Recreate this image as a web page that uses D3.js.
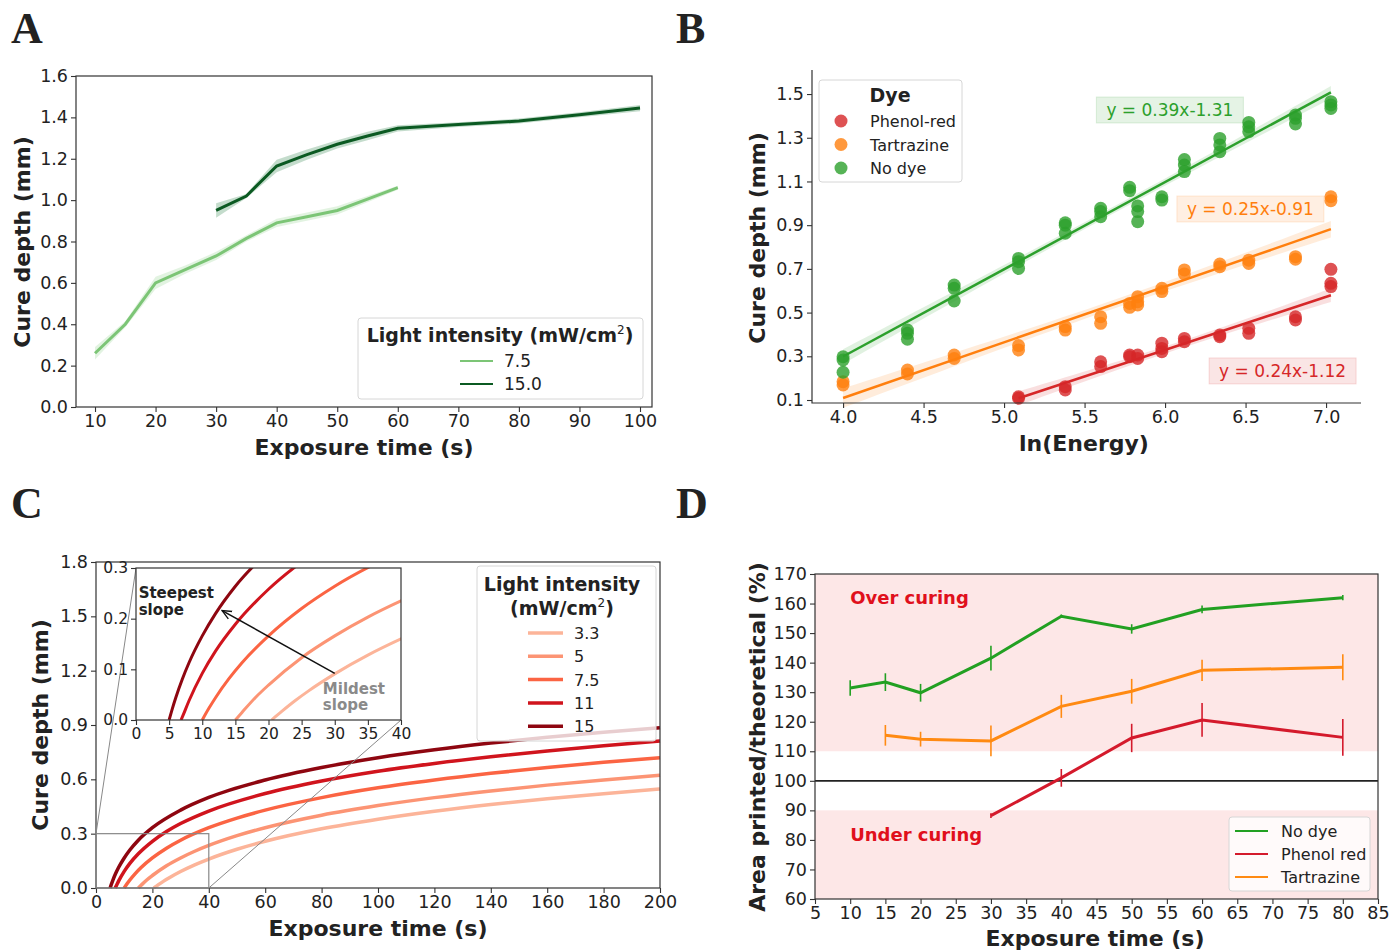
<!DOCTYPE html>
<html>
<head>
<meta charset="utf-8">
<script src="https://cdn.jsdelivr.net/npm/d3@7"></script>
<style>
body { margin: 0; background: #fff; }
svg text { font-family: "DejaVu Sans", sans-serif; fill: #222; }
</style>
</head>
<body>
<svg id="fig" width="1392" height="951"></svg>
<script>
// ---------- panel A : cure depth vs exposure time, two light intensities ----------
var aTime75 = [10, 15, 20, 25, 30, 35, 40, 45, 50, 55, 60];
var aDepth75 = [0.26, 0.40, 0.60, 0.665, 0.73, 0.815, 0.89, 0.92, 0.95, 1.005, 1.06];
var aErr75 = [0.03, 0.015, 0.03, 0.02, 0.02, 0.015, 0.02, 0.02, 0.02, 0.015, 0.01];
var aTime15 = [30, 35, 40, 45, 50, 55, 60, 70, 80, 90, 100];
var aDepth15 = [0.95, 1.02, 1.165, 1.22, 1.27, 1.31, 1.347, 1.365, 1.382, 1.413, 1.445];
var aErr15 = [0.035, 0.01, 0.03, 0.025, 0.02, 0.02, 0.015, 0.012, 0.012, 0.012, 0.015];

// ---------- panel B : cure depth vs ln(Energy) per dye ----------
var bLnE = [4.00, 4.40, 4.69, 5.09, 5.38, 5.60, 5.78, 5.83, 5.98, 6.12, 6.34, 6.52, 6.81, 7.03];
var bPhenol = [[], [], [], [0.115, 0.108], [0.161, 0.146], [0.275, 0.253], [0.306, 0.298],
  [0.306, 0.29], [0.36, 0.336, 0.321], [0.382, 0.367], [0.397, 0.39], [0.428, 0.405],
  [0.481, 0.466], [0.698, 0.634, 0.619]];
var bTartrazine = [[0.184, 0.169], [0.237, 0.219], [0.306, 0.29], [0.349, 0.329], [0.436, 0.42],
  [0.481, 0.451], [0.542, 0.524], [0.573, 0.55, 0.535], [0.611, 0.596], [0.695, 0.677],
  [0.722, 0.71], [0.74, 0.725], [0.756, 0.744], [1.03, 1.012]];
var bNoDye = [[0.298, 0.283, 0.227], [0.42, 0.405, 0.378], [0.626, 0.611, 0.553], [0.748, 0.733, 0.702],
  [0.911, 0.90, 0.863], [0.977, 0.962, 0.939], [1.073, 1.058], [0.988, 0.962, 0.916],
  [1.03, 1.015], [1.20, 1.175, 1.145], [1.297, 1.267, 1.236], [1.37, 1.35, 1.328],
  [1.404, 1.389, 1.363], [1.465, 1.45, 1.434]];
var bDyes = ["Phenol-red", "Tartrazine", "No dye"];
var bSlope = [0.243, 0.255, 0.399];
var bIntercept = [-1.129, -0.911, -1.297];
var bFitLabels = ["y = 0.24x-1.12", "y = 0.25x-0.91", "y = 0.39x-1.31"];
var bLabelPos = [[6.73, 0.233], [6.53, 0.974], [6.03, 1.427]];

// ---------- panel C : modelled cure depth for 5 light intensities ----------
var cIntensity = ["3.3", "5", "7.5", "11", "15"];
var cTime = [
  [20.5, 21, 22, 24, 26, 30, 35, 40, 50, 60, 80, 100, 120, 140, 160, 180, 200],
  [15, 16, 18, 20, 25, 30, 35, 40, 50, 60, 80, 100, 120, 140, 160, 180, 200],
  [10, 11, 12, 14, 16, 20, 25, 30, 40, 50, 60, 80, 100, 120, 140, 160, 180, 200],
  [6.8, 7, 8, 10, 12, 15, 20, 25, 30, 40, 60, 80, 100, 120, 140, 160, 180, 200],
  [5, 5.5, 6, 7, 8, 10, 12, 15, 20, 30, 40, 60, 80, 100, 120, 140, 160, 180, 200]
];
var cDepth = [
  [0, 0.006, 0.017, 0.038, 0.057, 0.091, 0.128, 0.16, 0.214, 0.258, 0.327, 0.38, 0.424, 0.461, 0.493, 0.521, 0.547],
  [0, 0.015, 0.044, 0.069, 0.123, 0.166, 0.203, 0.235, 0.289, 0.333, 0.402, 0.455, 0.499, 0.536, 0.568, 0.596, 0.622],
  [0, 0.023, 0.044, 0.081, 0.113, 0.166, 0.22, 0.264, 0.333, 0.386, 0.43, 0.499, 0.553, 0.596, 0.633, 0.665, 0.694, 0.719],
  [0, 0.006, 0.038, 0.092, 0.136, 0.189, 0.258, 0.312, 0.356, 0.425, 0.522, 0.591, 0.645, 0.688, 0.725, 0.757, 0.786, 0.811],
  [0, 0.023, 0.044, 0.081, 0.113, 0.166, 0.21, 0.264, 0.333, 0.43, 0.5, 0.596, 0.665, 0.719, 0.763, 0.80, 0.832, 0.86, 0.885]
];
var cColors = ["#fcb499", "#fc9474", "#fb6443", "#d0141d", "#8e0610"];

// ---------- panel D : printed / theoretical area ----------
var dSeries = ["No dye", "Phenol red", "Tartrazine"];
var dTime = [
  [10, 15, 20, 30, 40, 50, 60, 80],
  [30, 40, 50, 60, 80],
  [15, 20, 30, 40, 50, 60, 80]
];
var dArea = [
  [131.4, 133.4, 129.8, 141.5, 155.7, 151.4, 158.0, 162.0],
  [88.2, 101.0, 114.5, 120.6, 114.7],
  [115.4, 114.1, 113.5, 125.2, 130.3, 137.4, 138.4]
];
var dErr = [
  [2.6, 3.0, 3.0, 4.2, 0.6, 1.6, 1.3, 0.9],
  [0.8, 3.0, 4.8, 5.7, 6.2],
  [3.5, 2.5, 5.2, 3.9, 4.2, 3.6, 4.4]
];
var dColors = ["#22a022", "#d41a2c", "#ff8a12"];

var svg = d3.select("#fig");
var tickFont = 17.5;

// draws bottom + left axes, optional full frame
function drawAxes(g, x, y, xticks, yticks, xfmt, yfmt, box, fs) {
  fs = fs || tickFont;
  var xr = x.range(), yr = y.range();
  var ax = g.append("g").attr("transform", "translate(0," + yr[0] + ")")
    .call(d3.axisBottom(x).tickValues(xticks).tickFormat(xfmt).tickSize(5).tickPadding(3));
  var ay = g.append("g").attr("transform", "translate(" + xr[0] + ",0)")
    .call(d3.axisLeft(y).tickValues(yticks).tickFormat(yfmt).tickSize(5).tickPadding(3));
  [ax, ay].forEach(function (a) {
    a.select(".domain").remove();
    a.selectAll("line").attr("stroke", "#333").attr("stroke-width", 1.1);
    a.selectAll("text").attr("font-size", fs).attr("fill", "#222")
      .attr("font-family", "DejaVu Sans, sans-serif");
  });
  if (box) {
    g.append("rect").attr("x", xr[0]).attr("y", yr[1]).attr("width", xr[1] - xr[0])
      .attr("height", yr[0] - yr[1]).attr("fill", "none").attr("stroke", "#333").attr("stroke-width", 1.2);
  } else {
    g.append("path").attr("d", "M" + xr[0] + "," + yr[1] + "V" + yr[0] + "H" + xr[1])
      .attr("fill", "none").attr("stroke", "#333").attr("stroke-width", 1.2);
  }
}

function axisTitle(text, x, y, rotate, size) {
  svg.append("text").attr("x", x).attr("y", y)
    .attr("transform", rotate ? "rotate(-90," + x + "," + y + ")" : null)
    .attr("text-anchor", "middle").attr("dominant-baseline", "central")
    .attr("font-size", size || 22).attr("font-weight", "bold").text(text);
}

function panelLetter(t, x, y) {
  svg.append("text").attr("x", x).attr("y", y).text(t)
    .attr("font-family", "Liberation Serif, Times New Roman, serif")
    .attr("font-weight", "bold").attr("font-size", 44).style("font-family", "Liberation Serif, serif");
}

var fmt1 = d3.format(".1f");
var fmt0 = d3.format("d");

// ================= PANEL A =================
(function () {
  var g = svg.append("g");
  var x = d3.scaleLinear().domain([6.86, 101.98]).range([76, 652]);
  var y = d3.scaleLinear().domain([0, 1.6]).range([407, 76]);

  var series = [
    { t: aTime75, d: aDepth75, e: aErr75, c: "#7cc576", band: "#9ed69a" },
    { t: aTime15, d: aDepth15, e: aErr15, c: "#0b5a22", band: "#3d8a55" }
  ];
  series.forEach(function (s) {
    var pts = s.t.map(function (t, i) { return [t, s.d[i], s.e[i]]; });
    g.append("path").datum(pts)
      .attr("d", d3.area().x(function (p) { return x(p[0]); })
        .y0(function (p) { return y(p[1] - p[2]); }).y1(function (p) { return y(p[1] + p[2]); }))
      .attr("fill", s.band).attr("opacity", 0.3);
    g.append("path").datum(pts)
      .attr("d", d3.line().x(function (p) { return x(p[0]); }).y(function (p) { return y(p[1]); }))
      .attr("fill", "none").attr("stroke", s.c).attr("stroke-width", 3);
  });

  drawAxes(g, x, y, d3.range(10, 101, 10), d3.range(0, 1.61, 0.2), fmt0, fmt1, true);

  // legend
  var lg = g.append("g");
  lg.append("rect").attr("x", 358).attr("y", 318).attr("width", 285).attr("height", 81)
    .attr("rx", 3).attr("fill", "#fff").attr("fill-opacity", 0.85).attr("stroke", "#d6d6d6");
  var tt = lg.append("text").attr("x", 500).attr("y", 342).attr("text-anchor", "middle")
    .attr("font-size", 19).attr("font-weight", "bold");
  tt.append("tspan").text("Light intensity (mW/cm");
  tt.append("tspan").text("2").attr("font-size", 12).attr("font-weight", "normal").attr("dy", -8);
  tt.append("tspan").text(")").attr("dy", 8);
  ["7.5", "15.0"].forEach(function (lab, i) {
    var yy = 361 + i * 23;
    lg.append("line").attr("x1", 460).attr("x2", 493).attr("y1", yy).attr("y2", yy)
      .attr("stroke", series[i].c).attr("stroke-width", 2);
    lg.append("text").attr("x", 504).attr("y", yy + 6).attr("font-size", 17).text(lab);
  });

  axisTitle("Cure depth (mm)", 22, 242, true);
  axisTitle("Exposure time (s)", 364, 447, false);
  panelLetter("A", 11, 43);
})();

// ================= PANEL B =================
(function () {
  var g = svg.append("g");
  var x = d3.scaleLinear().domain([3.807, 7.217]).range([812, 1361]);
  var y = d3.scaleLinear().domain([0.0863, 1.61]).range([403, 70]);
  var colors = ["#d62728", "#ff7f0e", "#2ca02c"];
  var groups = [bPhenol, bTartrazine, bNoDye];

  // regression lines with confidence band
  groups.forEach(function (grp, k) {
    var xs = [], ys = [];
    grp.forEach(function (vals, i) { vals.forEach(function (v) { xs.push(bLnE[i]); ys.push(v); }); });
    var n = xs.length, xm = d3.mean(xs);
    var sxx = d3.sum(xs, function (v) { return (v - xm) * (v - xm); });
    var rss = d3.sum(xs, function (v, i) {
      var r = ys[i] - (bSlope[k] * v + bIntercept[k]); return r * r;
    });
    var s = Math.sqrt(rss / (n - 2));
    var x0 = d3.min(xs), x1 = d3.max(xs);
    var grid = d3.range(0, 41).map(function (i) { return x0 + (x1 - x0) * i / 40; });
    var band = grid.map(function (v) {
      var h = 1.96 * s * Math.sqrt(1 / n + (v - xm) * (v - xm) / sxx);
      var m = bSlope[k] * v + bIntercept[k];
      return [v, m - h, m + h];
    });
    g.append("path").datum(band)
      .attr("d", d3.area().x(function (p) { return x(p[0]); })
        .y0(function (p) { return y(p[1]); }).y1(function (p) { return y(p[2]); }))
      .attr("fill", colors[k]).attr("opacity", 0.15);
    g.append("line").attr("x1", x(x0)).attr("x2", x(x1))
      .attr("y1", y(bSlope[k] * x0 + bIntercept[k])).attr("y2", y(bSlope[k] * x1 + bIntercept[k]))
      .attr("stroke", colors[k]).attr("stroke-width", 2.5);
  });

  groups.forEach(function (grp, k) {
    grp.forEach(function (vals, i) {
      vals.forEach(function (v) {
        g.append("circle").attr("cx", x(bLnE[i])).attr("cy", y(v)).attr("r", 6.5)
          .attr("fill", colors[k]).attr("fill-opacity", 0.8);
      });
    });
  });

  // equation labels
  bFitLabels.forEach(function (lab, k) {
    var cx = x(bLabelPos[k][0]), cy = y(bLabelPos[k][1]);
    var w = 147, h = 26;
    g.append("rect").attr("x", cx - w / 2).attr("y", cy - h / 2).attr("width", w).attr("height", h)
      .attr("fill", colors[k]).attr("fill-opacity", 0.12).attr("stroke", colors[k]).attr("stroke-opacity", 0.15);
    g.append("text").attr("x", cx).attr("y", cy + 6).attr("text-anchor", "middle")
      .attr("font-size", 17).attr("fill", colors[k]).style("fill", colors[k]).text(lab);
  });

  drawAxes(g, x, y, d3.range(4, 7.01, 0.5), d3.range(0.1, 1.51, 0.2), fmt1, fmt1, false);

  // legend
  var lg = g.append("g");
  lg.append("rect").attr("x", 819).attr("y", 80).attr("width", 143).attr("height", 102)
    .attr("rx", 3).attr("fill", "#fff").attr("fill-opacity", 0.85).attr("stroke", "#d6d6d6");
  lg.append("text").attr("x", 890).attr("y", 102).attr("text-anchor", "middle")
    .attr("font-size", 19).attr("font-weight", "bold").text("Dye");
  bDyes.forEach(function (lab, i) {
    var yy = 121 + i * 23.5;
    lg.append("circle").attr("cx", 841).attr("cy", yy).attr("r", 6.5)
      .attr("fill", colors[i]).attr("fill-opacity", 0.8);
    lg.append("text").attr("x", 870).attr("y", yy + 6).attr("font-size", 16).text(lab);
  });

  axisTitle("Cure depth (mm)", 757, 238, true);
  axisTitle("ln(Energy)", 1084, 443, false);
  panelLetter("B", 676, 43);
})();

// ================= PANEL C =================
(function () {
  var g = svg.append("g");
  var x = d3.scaleLinear().domain([0, 200]).range([96, 660]);
  var y = d3.scaleLinear().domain([0, 1.8]).range([888, 562]);
  var line = d3.line().curve(d3.curveMonotoneX);

  cTime.forEach(function (ts, k) {
    g.append("path").datum(ts.map(function (t, i) { return [x(t), y(cDepth[k][i])]; }))
      .attr("d", line).attr("fill", "none").attr("stroke", cColors[k]).attr("stroke-width", 3.5);
  });

  drawAxes(g, x, y, d3.range(0, 201, 20), d3.range(0, 1.81, 0.3), fmt0, fmt1, true);

  // zoomed region marker + connectors
  var ix = d3.scaleLinear().domain([0, 40]).range([136, 401]);
  var iy = d3.scaleLinear().domain([0, 0.3]).range([720, 568]);
  g.append("rect").attr("x", x(0)).attr("y", y(0.3)).attr("width", x(40) - x(0))
    .attr("height", y(0) - y(0.3)).attr("fill", "none").attr("stroke", "#888").attr("stroke-width", 1.2);
  g.append("line").attr("x1", x(0)).attr("y1", y(0.3)).attr("x2", ix(0)).attr("y2", iy(0.3))
    .attr("stroke", "#888").attr("stroke-width", 1);
  g.append("line").attr("x1", x(40)).attr("y1", y(0)).attr("x2", ix(40)).attr("y2", iy(0))
    .attr("stroke", "#888").attr("stroke-width", 1);

  // legend
  var lg = g.append("g");
  lg.append("rect").attr("x", 477).attr("y", 566).attr("width", 179).attr("height", 175)
    .attr("rx", 3).attr("fill", "#fff").attr("fill-opacity", 0.8).attr("stroke", "#d6d6d6");
  lg.append("text").attr("x", 562).attr("y", 591).attr("text-anchor", "middle")
    .attr("font-size", 19).attr("font-weight", "bold").text("Light intensity");
  var t2 = lg.append("text").attr("x", 562).attr("y", 615).attr("text-anchor", "middle")
    .attr("font-size", 19).attr("font-weight", "bold");
  t2.append("tspan").text("(mW/cm");
  t2.append("tspan").text("2").attr("font-size", 12).attr("font-weight", "normal").attr("dy", -8);
  t2.append("tspan").text(")").attr("dy", 8);
  cIntensity.forEach(function (lab, i) {
    var yy = 633 + i * 23.3;
    lg.append("line").attr("x1", 528).attr("x2", 563).attr("y1", yy).attr("y2", yy)
      .attr("stroke", cColors[i]).attr("stroke-width", 3.5);
    lg.append("text").attr("x", 574).attr("y", yy + 6).attr("font-size", 16).text(lab);
  });

  // inset
  var ig = g.append("g");
  ig.append("rect").attr("x", 136).attr("y", 568).attr("width", 265).attr("height", 152).attr("fill", "#fff");
  svg.append("clipPath").attr("id", "insetClip").append("rect")
    .attr("x", 136).attr("y", 568).attr("width", 265).attr("height", 152);
  var il = ig.append("g").attr("clip-path", "url(#insetClip)");
  cTime.forEach(function (ts, k) {
    il.append("path").datum(ts.map(function (t, i) { return [ix(t), iy(cDepth[k][i])]; }))
      .attr("d", line).attr("fill", "none").attr("stroke", cColors[k]).attr("stroke-width", 3);
  });
  drawAxes(ig, ix, iy, d3.range(0, 41, 5), [0, 0.1, 0.2, 0.3], fmt0, fmt1, true, 15.5);

  svg.append("defs").append("marker").attr("id", "arrowHead").attr("viewBox", "0 0 10 10")
    .attr("refX", 9).attr("refY", 5).attr("markerWidth", 7).attr("markerHeight", 7)
    .attr("orient", "auto").append("path").attr("d", "M0,1 L9,5 L0,9").attr("fill", "none")
    .attr("stroke", "#111").attr("stroke-width", 1.3);
  ig.append("line").attr("x1", ix(30)).attr("y1", iy(0.092)).attr("x2", ix(13)).attr("y2", iy(0.216))
    .attr("stroke", "#111").attr("stroke-width", 1.5).attr("marker-end", "url(#arrowHead)");
  ig.append("text").attr("x", ix(0.4)).attr("y", iy(0.24)).attr("font-size", 15)
    .attr("font-weight", "bold").text("Steepest");
  ig.append("text").attr("x", ix(0.4)).attr("y", iy(0.208)).attr("font-size", 15)
    .attr("font-weight", "bold").text("slope");
  ig.append("text").attr("x", ix(28.2)).attr("y", iy(0.052)).attr("font-size", 15)
    .attr("font-weight", "bold").style("fill", "#8a8a8a").text("Mildest");
  ig.append("text").attr("x", ix(28.2)).attr("y", iy(0.02)).attr("font-size", 15)
    .attr("font-weight", "bold").style("fill", "#8a8a8a").text("slope");

  axisTitle("Cure depth (mm)", 40, 725, true);
  axisTitle("Exposure time (s)", 378, 928, false);
  panelLetter("C", 11, 518);
})();

// ================= PANEL D =================
(function () {
  var g = svg.append("g");
  var x = d3.scaleLinear().domain([5, 85]).range([815, 1378]);
  var y = d3.scaleLinear().domain([60, 170]).range([899, 574]);

  [[110, 170], [60, 90]].forEach(function (r) {
    g.append("rect").attr("x", x(5)).attr("width", x(85) - x(5))
      .attr("y", y(r[1])).attr("height", y(r[0]) - y(r[1])).attr("fill", "#fde7e7");
  });
  g.append("line").attr("x1", x(5)).attr("x2", x(85)).attr("y1", y(100)).attr("y2", y(100))
    .attr("stroke", "#222").attr("stroke-width", 1.8);

  g.append("text").attr("x", x(10)).attr("y", y(160)).attr("font-size", 18)
    .attr("font-weight", "bold").style("fill", "#e0101c").text("Over curing");
  g.append("text").attr("x", x(10)).attr("y", y(79.6)).attr("font-size", 18)
    .attr("font-weight", "bold").style("fill", "#e0101c").text("Under curing");

  var order = [0, 2, 1];
  order.forEach(function (k) {
    var pts = dTime[k].map(function (t, i) { return [t, dArea[k][i], dErr[k][i]]; });
    g.append("path").datum(pts)
      .attr("d", d3.line().x(function (p) { return x(p[0]); }).y(function (p) { return y(p[1]); }))
      .attr("fill", "none").attr("stroke", dColors[k]).attr("stroke-width", 3);
    g.selectAll(null).data(pts).enter().append("line")
      .attr("x1", function (p) { return x(p[0]); }).attr("x2", function (p) { return x(p[0]); })
      .attr("y1", function (p) { return y(p[1] - p[2]); }).attr("y2", function (p) { return y(p[1] + p[2]); })
      .attr("stroke", dColors[k]).attr("stroke-width", 1.6);
  });

  drawAxes(g, x, y, d3.range(5, 86, 5), d3.range(60, 171, 10), fmt0, fmt0, true);

  var lg = g.append("g");
  lg.append("rect").attr("x", 1229).attr("y", 817).attr("width", 141).attr("height", 74)
    .attr("rx", 3).attr("fill", "#fff").attr("fill-opacity", 0.8).attr("stroke", "#d6d6d6");
  dSeries.forEach(function (lab, i) {
    var yy = 831 + i * 23;
    lg.append("line").attr("x1", 1235).attr("x2", 1268).attr("y1", yy).attr("y2", yy)
      .attr("stroke", dColors[i]).attr("stroke-width", 2);
    lg.append("text").attr("x", 1281).attr("y", yy + 6).attr("font-size", 16).text(lab);
  });

  axisTitle("Area printed/theoretical (%)", 757, 737, true);
  axisTitle("Exposure time (s)", 1095, 938, false);
  panelLetter("D", 676, 518);
})();
</script>
</body>
</html>
